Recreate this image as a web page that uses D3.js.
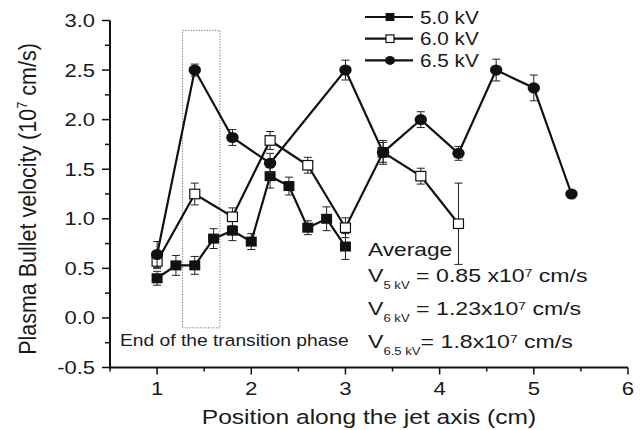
<!DOCTYPE html>
<html>
<head>
<meta charset="utf-8">
<script src="https://cdn.jsdelivr.net/npm/d3@7"></script>
<style>
  body { margin: 0; background: #fff; }
  text { font-family: "Liberation Sans", Arial, sans-serif; fill: #1a1a1a; }
</style>
</head>
<body>
<div id="chart"></div>
<script>
// Series data (x in cm, y in 10^7 cm/s)
const x5 = [1.0, 1.2, 1.4, 1.6, 1.8, 2.0, 2.2, 2.4, 2.6, 2.8, 3.0];
const y5 = [0.40, 0.53, 0.53, 0.80, 0.88, 0.77, 1.43, 1.33, 0.91, 1.00, 0.72];
const e5 = [0.07, 0.10, 0.09, 0.10, 0.10, 0.08, 0.12, 0.09, 0.07, 0.12, 0.13];

const x6 = [1.0, 1.4, 1.8, 2.2, 2.6, 3.0, 3.4, 3.8, 4.2];
const y6 = [0.57, 1.25, 1.02, 1.79, 1.54, 0.91, 1.67, 1.43, 0.95];
const e6 = [0.07, 0.11, 0.09, 0.09, 0.08, 0.10, 0.10, 0.08, 0.41];

const x65 = [1.0, 1.4, 1.8, 2.2, 3.0, 3.4, 3.8, 4.2, 4.6, 5.0, 5.4];
const y65 = [0.64, 2.50, 1.82, 1.56, 2.50, 1.67, 2.00, 1.66, 2.50, 2.32, 1.25];
const e65 = [0.13, 0.06, 0.08, 0.10, 0.10, 0.12, 0.08, 0.07, 0.11, 0.13, 0.03];

const xTicks = [1, 2, 3, 4, 5, 6];
const yTicks = [-0.5, 0.0, 0.5, 1.0, 1.5, 2.0, 2.5, 3.0];
const legendLabels = ['5.0 kV', '6.0 kV', '6.5 kV'];

const width = 643, height = 430;
const SX = 1.2; // the scanned figure's lettering is stretched sideways

const svg = d3.select('#chart').append('svg')
    .attr('width', width).attr('height', height);

const x = d3.scaleLinear().domain([0.5, 6]).range([110, 628]);
const y = d3.scaleLinear().domain([-0.5, 3.0]).range([367.5, 20.5]);

// text placed at (px,py) and widened by sx around its anchor
function label(parent, px, py, size, anchor, sx) {
    return parent.append('text')
        .attr('transform', `translate(${px},${py}) scale(${sx || SX},1)`)
        .attr('text-anchor', anchor || 'start')
        .style('font-size', size + 'px');
}

// Dotted box marking the end of the transition phase
svg.append('rect')
    .attr('x', x(1.27)).attr('y', y(2.9))
    .attr('width', x(1.667) - x(1.27))
    .attr('height', y(-0.1) - y(2.9))
    .attr('fill', 'none').attr('stroke', '#555')
    .attr('stroke-width', 0.8).attr('stroke-dasharray', '1.2,1.5');

// Axes
const xAxis = svg.append('g').attr('transform', `translate(0,${y(-0.5)})`);
xAxis.append('line').attr('x1', x(0.5) - 1).attr('x2', x(6))
    .attr('stroke', '#111').attr('stroke-width', 2);
d3.range(0.5, 6.01, 0.5).forEach(v => {
    const major = Number.isInteger(v);
    xAxis.append('line').attr('x1', x(v)).attr('x2', x(v))
        .attr('y1', 0).attr('y2', major ? 7 : 4)
        .attr('stroke', '#111').attr('stroke-width', 1.5);
});
xTicks.forEach(d => label(xAxis, x(d), 27, 18.5, 'middle').text(d));

const yAxis = svg.append('g').attr('transform', `translate(${x(0.5)},0)`);
yAxis.append('line').attr('y1', y(-0.5) + 1).attr('y2', y(3.0))
    .attr('stroke', '#111').attr('stroke-width', 2);
d3.range(-0.5, 3.01, 0.25).forEach(v => {
    const major = Math.abs(v * 2 - Math.round(v * 2)) < 1e-6;
    yAxis.append('line').attr('x1', 0).attr('x2', major ? -8 : -5)
        .attr('y1', y(v)).attr('y2', y(v))
        .attr('stroke', '#111').attr('stroke-width', 1.5);
});
yTicks.forEach(d => label(yAxis, -15, y(d) + 6.5, 18, 'end', 1.22).text(d.toFixed(1)));

// Axis titles
label(svg, 369, 424, 21, 'middle', 1.17).text('Position along the jet axis (cm)');

const yTitle = svg.append('text')
    .attr('transform', `translate(36,199) rotate(-90) scale(1,1.15)`)
    .attr('text-anchor', 'middle').style('font-size', '21.5px');
yTitle.append('tspan').text('Plasma Bullet velocity (10');
yTitle.append('tspan').attr('dy', -8).style('font-size', '13px').text('7');
yTitle.append('tspan').attr('dy', 8).text(' cm/s)');

// Series drawing helpers
const line = d3.line().x(d => x(d.x)).y(d => y(d.y));

function drawMarker(g, cx, cy, marker, k) {
    k = k || 1;
    if (marker === 'circle') {
        g.append('ellipse').attr('cx', cx).attr('cy', cy)
            .attr('rx', 6.2 * k).attr('ry', 5.6 * k).attr('fill', '#111');
    } else {
        const w = (marker === 'open' ? 10 : 11) * k;
        const h = (marker === 'open' ? 9.5 : 10) * k;
        g.append('rect').attr('x', cx - w / 2).attr('y', cy - h / 2)
            .attr('width', w).attr('height', h)
            .attr('fill', marker === 'open' ? '#fff' : '#111')
            .attr('stroke', '#111').attr('stroke-width', marker === 'open' ? 1.2 : 0);
    }
}

function drawSeries(xs, ys, es, marker) {
    const pts = xs.map((v, i) => ({ x: v, y: ys[i], e: es[i] }));
    const g = svg.append('g');
    // error bars
    pts.forEach(p => {
        g.append('line').attr('x1', x(p.x)).attr('x2', x(p.x))
            .attr('y1', y(p.y - p.e)).attr('y2', y(p.y + p.e))
            .attr('stroke', '#222').attr('stroke-width', 1);
        [p.y - p.e, p.y + p.e].forEach(v => {
            g.append('line').attr('x1', x(p.x) - 4).attr('x2', x(p.x) + 4)
                .attr('y1', y(v)).attr('y2', y(v))
                .attr('stroke', '#222').attr('stroke-width', 1);
        });
    });
    g.append('path').datum(pts).attr('d', line)
        .attr('fill', 'none').attr('stroke', '#111').attr('stroke-width', 2.2);
    pts.forEach(p => drawMarker(g, x(p.x), y(p.y), marker));
}

drawSeries(x5, y5, e5, 'filled');
drawSeries(x6, y6, e6, 'open');
drawSeries(x65, y65, e65, 'circle');

// Legend
const markers = ['filled', 'open', 'circle'];
legendLabels.forEach((lab, i) => {
    const ly = 17 + i * 21.7;
    const g = svg.append('g');
    g.append('line').attr('x1', 365).attr('x2', 413).attr('y1', ly).attr('y2', ly)
        .attr('stroke', '#111').attr('stroke-width', 2.2);
    drawMarker(g, 390, ly, markers[i], 0.8);
    label(g, 420, ly + 6.6, 18.5, 'start', 1.12).text(lab);
});

// Annotations
label(svg, 120, 346, 16.3, 'start', 1.18).text('End of the transition phase');

label(svg, 368, 256, 18.5, 'start', 1.23).text('Average');

const avgLines = [
    { sub: '5 kV', rest: ' = 0.85 x10', y: 282 },
    { sub: '6 kV', rest: ' = 1.23x10', y: 315 },
    { sub: '6.5 kV', rest: '= 1.8x10', y: 348 }
];
avgLines.forEach(a => {
    const t = label(svg, 368, a.y, 18.5, 'start', 1.25);
    t.append('tspan').text('V');
    t.append('tspan').attr('dy', 7).style('font-size', '10.5px').text(a.sub);
    t.append('tspan').attr('dy', -7).text(a.rest);
    t.append('tspan').attr('dy', -5).style('font-size', '11px').text('7');
    t.append('tspan').attr('dy', 5).text(' cm/s');
});
</script>
</body>
</html>
